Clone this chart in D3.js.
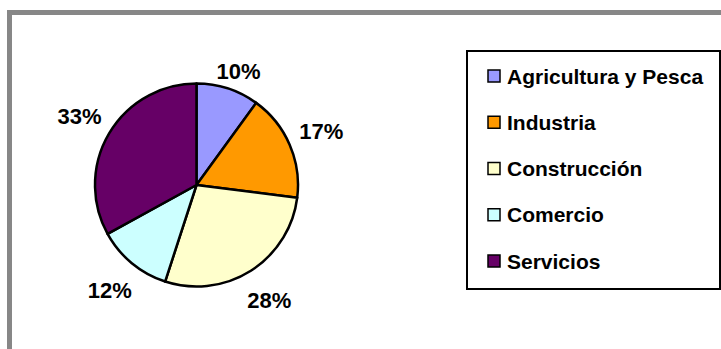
<!DOCTYPE html>
<html>
<head>
<meta charset="utf-8">
<script src="https://cdn.jsdelivr.net/npm/d3@7"></script>
<style>
  html, body { margin: 0; padding: 0; background: #fff; }
  svg { display: block; }
  text { font-family: "Liberation Sans", Arial, sans-serif; font-weight: bold; fill: #000; }
</style>
</head>
<body>
<svg id="chart" width="721" height="349"></svg>
<script>
// Sector shares of the workforce (%)
const categories = ["Agricultura y Pesca", "Industria", "Construcción", "Comercio", "Servicios"];
const shares = [10, 17, 28, 12, 33];
const sliceColors = ["#9999FF", "#FF9900", "#FFFFCC", "#CCFFFF", "#660066"];

const svg = d3.select("#chart");
const W = 721, H = 349;

// Chart-area frame (grey, runs off the right and bottom edges)
svg.append("rect")
  .attr("x", 9.5).attr("y", 12.5)
  .attr("width", W + 20).attr("height", H + 20)
  .attr("fill", "#fff")
  .attr("stroke", "#878787").attr("stroke-width", 5);

// Pie
const cx = 196.5, cy = 185, radius = 101.5;
const color = d3.scaleOrdinal().domain(categories).range(sliceColors);
const pie = d3.pie().value(d => d.value).sort(null);
const arc = d3.arc().innerRadius(0).outerRadius(radius);
const data = categories.map((c, i) => ({ name: c, value: shares[i] }));
const arcs = pie(data);

const g = svg.append("g").attr("transform", `translate(${cx},${cy})`);
g.selectAll("path.slice")
  .data(arcs)
  .join("path")
  .attr("class", "slice")
  .attr("d", arc)
  .attr("fill", d => color(d.data.name))
  .attr("stroke", "#000")
  .attr("stroke-width", 2.5)
  .attr("stroke-linejoin", "round");

// Percentage labels on a ring outside the pie, kept below the plot-area top
const fmt = d3.format(".0%");
const total = d3.sum(shares);
const labelArc = d3.arc().innerRadius(136).outerRadius(136);
const labelHalfH = 8.5;
const plotTop = 63 - cy;
g.selectAll("text.pct")
  .data(arcs)
  .join("text")
  .attr("class", "pct")
  .attr("text-anchor", "middle")
  .attr("font-size", 22)
  .each(function(d) {
    const [lx, ly] = labelArc.centroid(d);
    d3.select(this)
      .attr("x", lx)
      .attr("y", Math.max(ly, plotTop + labelHalfH))
      .attr("dy", "0.36em")
      .text(fmt(d.data.value / total));
  });

// Legend
const legend = svg.append("g");
legend.append("rect")
  .attr("x", 467).attr("y", 51)
  .attr("width", 253).attr("height", 238)
  .attr("fill", "#fff")
  .attr("stroke", "#000").attr("stroke-width", 2);

const rowY = d3.scalePoint().domain(categories).range([76, 261]);
const items = legend.selectAll("g.item")
  .data(categories)
  .join("g")
  .attr("class", "item")
  .attr("transform", d => `translate(0,${rowY(d)})`);
items.append("rect")
  .attr("x", 488).attr("y", -6)
  .attr("width", 12).attr("height", 12)
  .attr("fill", d => color(d))
  .attr("stroke", "#000").attr("stroke-width", 1.5);
items.append("text")
  .attr("x", 507).attr("y", 0)
  .attr("dy", "0.36em")
  .attr("font-size", 21)
  .text(d => d);
</script>
</body>
</html>
